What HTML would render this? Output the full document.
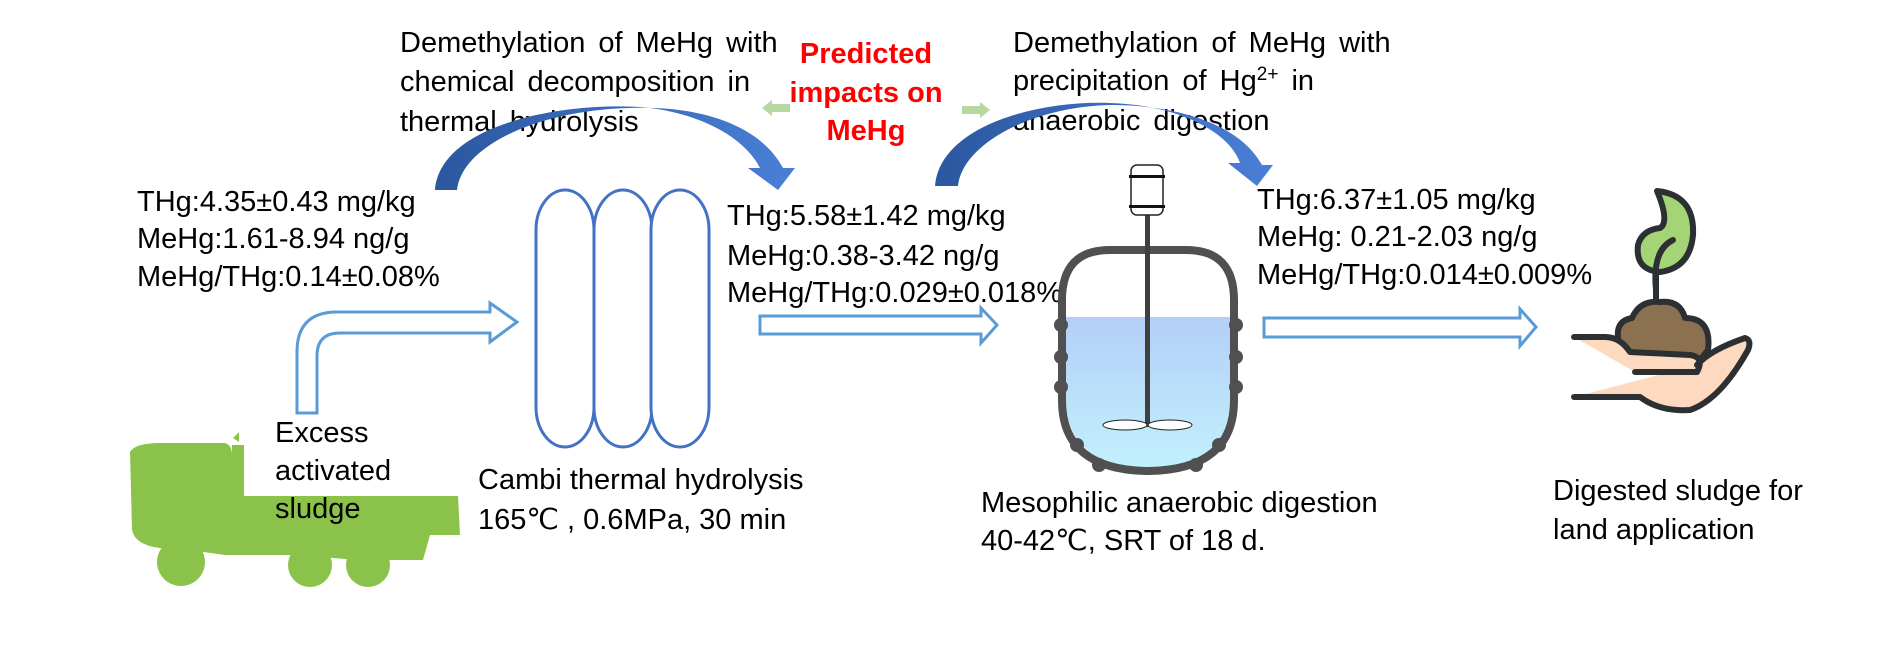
<!DOCTYPE html>
<html><head><meta charset="utf-8"><style>
html,body{margin:0;padding:0;background:#fff;}
svg{display:block;}
text{font-family:"Liberation Sans",sans-serif;font-size:29px;fill:#000;}
</style></head><body>
<svg width="1890" height="649" viewBox="0 0 1890 649" xmlns="http://www.w3.org/2000/svg">
<defs>
<linearGradient id="arc" x1="0" y1="0" x2="1" y2="0">
<stop offset="0" stop-color="#2b579f"/><stop offset="1" stop-color="#4a7fd6"/></linearGradient>
<linearGradient id="liq" x1="0" y1="0" x2="0" y2="1">
<stop offset="0" stop-color="#b3cff7"/><stop offset="1" stop-color="#c2f0fd"/></linearGradient>
</defs>

<g word-spacing="5">
<text x="400" y="52">Demethylation of MeHg with</text>
<text x="400" y="91">chemical decomposition  in</text>
<text x="400" y="131">thermal hydrolysis</text>
<text x="1013" y="52">Demethylation of MeHg with</text>
<text x="1013" y="90">precipitation of Hg<tspan dy="-10" font-size="19">2+</tspan><tspan dy="10"> in</tspan></text>
<text x="1013" y="130">anaerobic digestion</text>
</g>
<g text-anchor="middle">
<text x="866" y="63" style="fill:#f00;font-weight:bold">Predicted</text>
<text x="866" y="102" style="fill:#f00;font-weight:bold">impacts on</text>
<text x="866" y="140" style="fill:#f00;font-weight:bold">MeHg</text>
</g>

<polygon points="762,108 772,100 772,104 790,104 790,112 772,112 772,116" fill="#b7d7a0"/>
<polygon points="990,110 980,102 980,106 962,106 962,114 980,114 980,118" fill="#b7d7a0"/>

<path d="M435,190 C440,125 560,102 640,107 C700,112 745,138 760,168 L748,168 L778,190 L795,168 L783,168 C760,125 700,105 630,108 C540,110 462,145 457,190 Z" fill="url(#arc)"/>
<path d="M935,186 C940,125 1040,100 1110,103 C1180,105 1230,133 1240,163 L1228,163 L1257,186 L1273,165 L1262,165 C1240,125 1180,105 1110,105 C1030,107 962,145 958,186 Z" fill="url(#arc)"/>

<text x="137" y="211">THg:4.35±0.43 mg/kg</text>
<text x="137" y="248">MeHg:1.61-8.94 ng/g</text>
<text x="137" y="286">MeHg/THg:0.14±0.08%</text>
<text x="727" y="225">THg:5.58±1.42 mg/kg</text>
<text x="727" y="265">MeHg:0.38-3.42 ng/g</text>
<text x="727" y="302">MeHg/THg:0.029±0.018%</text>
<text x="1257" y="209">THg:6.37±1.05 mg/kg</text>
<text x="1257" y="246">MeHg: 0.21-2.03 ng/g</text>
<text x="1257" y="284">MeHg/THg:0.014±0.009%</text>

<g fill="#fff" stroke="#4472c4" stroke-width="3">
<rect x="536" y="190" width="58" height="257" rx="29" ry="40"/>
<rect x="594" y="190" width="58" height="257" rx="29" ry="40"/>
<rect x="651" y="190" width="58" height="257" rx="29" ry="40"/>
</g>

<path d="M297,413 L297,352 Q297,312 337,312 L490,312 L490,303 L517,322 L490,342 L490,333 L340,333 Q317,333 317,356 L317,413 Z" fill="#fff" stroke="#5b9bd5" stroke-width="3"/>
<path d="M760,316 L981,316 L981,308 L997,325 L981,343 L981,334 L760,334 Z" fill="#fff" stroke="#5b9bd5" stroke-width="3"/>
<path d="M1264,318 L1520,318 L1520,309 L1536,327 L1520,346 L1520,337 L1264,337 Z" fill="#fff" stroke="#5b9bd5" stroke-width="3"/>

<g fill="#8bc34a">
<path d="M130,452 Q135,443 160,443 L225,443 Q232,445 232,455 L232,496 L458,496 L460,535 L430,535 L423,560 L356,560 L300,555 L225,555 L175,548 L160,548 Q135,545 132,530 Z"/>
<rect x="232" y="445" width="12" height="60"/>
<circle cx="181" cy="562" r="24"/>
<circle cx="310" cy="565" r="22"/>
<circle cx="368" cy="565" r="22"/>
<path d="M233,438 l6,-6 v10 z"/>
</g>
<text x="275" y="442">Excess</text>
<text x="275" y="480">activated</text>
<text x="275" y="518">sludge</text>

<text x="478" y="489">Cambi thermal hydrolysis</text>
<text x="478" y="529">165℃ , 0.6MPa, 30 min</text>

<path d="M1066,317 L1231,317 L1231,400 Q1231,465 1148,468 Q1066,465 1066,400 Z" fill="url(#liq)"/>
<g fill="#505050">
<circle cx="1061" cy="325" r="7"/><circle cx="1061" cy="357" r="7"/><circle cx="1061" cy="387" r="7"/>
<circle cx="1236" cy="325" r="7"/><circle cx="1236" cy="357" r="7"/><circle cx="1236" cy="387" r="7"/>
<circle cx="1077" cy="445" r="7"/><circle cx="1099" cy="465" r="7"/><circle cx="1196" cy="465" r="7"/><circle cx="1219" cy="445" r="7"/>
</g>
<path d="M1062,300 Q1062,250 1110,250 L1186,250 Q1234,250 1234,300 L1234,400 Q1234,470 1148,471 Q1062,470 1062,400 Z" fill="none" stroke="#505050" stroke-width="8"/>
<rect x="1145" y="215" width="5" height="212" fill="#404040"/>
<rect x="1131" y="165" width="32" height="50" rx="6" fill="#fff" stroke="#222" stroke-width="1.5"/>
<rect x="1129" y="175" width="36" height="3" fill="#111"/>
<rect x="1129" y="205" width="36" height="3" fill="#111"/>
<ellipse cx="1125" cy="425" rx="22" ry="5" fill="#fff" stroke="#222" stroke-width="1"/>
<ellipse cx="1170" cy="425" rx="22" ry="5" fill="#fff" stroke="#222" stroke-width="1"/>
<text x="981" y="512">Mesophilic anaerobic digestion</text>
<text x="981" y="550">40-42℃,   SRT of 18 d.</text>

<g stroke="#2d3033" stroke-width="6" stroke-linecap="round" stroke-linejoin="round">
<path d="M1657,191 Q1695,195 1693,235 Q1690,268 1660,272 Q1635,270 1638,245 Q1642,230 1660,228 Q1670,222 1657,191 Z" fill="#a4d475"/>
<path d="M1656,290 Q1652,250 1673,240" fill="none"/>
<line x1="1656" y1="270" x2="1656" y2="305"/>
<path d="M1622,352 Q1610,322 1632,318 Q1640,300 1660,302 Q1680,300 1685,318 Q1712,318 1708,350 L1700,360 L1630,355 Z" fill="#8c7150"/>
<path d="M1574,337 L1605,337 Q1620,337 1630,352 L1690,355 Q1705,357 1697,372 L1635,372 M1697,365 Q1710,350 1745,338 Q1752,340 1748,350 Q1720,400 1690,410 Q1660,412 1640,397 L1574,397" fill="#fdd9bf"/>
</g>
<text x="1553" y="500">Digested sludge for</text>
<text x="1553" y="539">land application</text>
</svg>
</body></html>
